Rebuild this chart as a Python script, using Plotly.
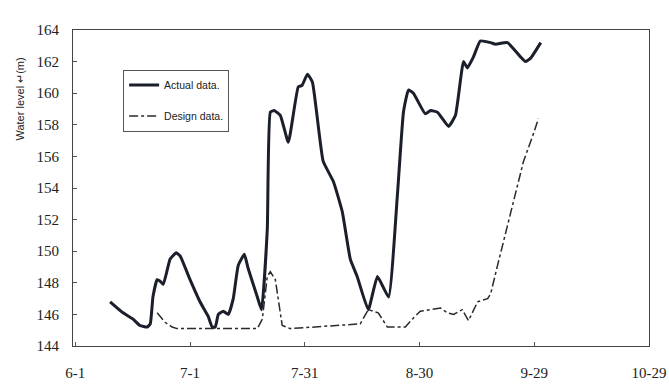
import plotly.graph_objects as go

# Days since 6-1
actual_day = [9.1, 12.5, 15.1, 16.9, 18.8, 19.6, 20.3, 21.4, 22.2, 23.0, 24.8, 26.4, 27.4, 30.0, 32.6,
              34.7, 35.8, 36.6, 37.4, 38.7, 40.0, 41.3, 42.6, 44.2, 45.2, 47.6, 48.7, 50.2, 51.0, 52.0,
              53.6, 55.7, 58.3, 59.3, 60.7, 62.0, 64.8, 67.5, 69.8, 71.9, 73.7, 76.6, 79.0, 81.9, 84.2,
              85.8, 87.1, 88.4, 91.5, 92.9, 94.7, 97.6, 99.4, 101.5, 102.5, 104.1, 105.9, 108.6, 109.9,
              113.0, 116.4, 117.7, 119.0, 121.7]
actual_level = [146.8, 146.1, 145.7, 145.3, 145.2, 145.4, 147.1, 148.2, 148.1, 147.9, 149.5, 149.9, 149.7, 148.2, 146.8,
                145.9, 145.2, 145.2, 146.0, 146.2, 146.0, 147.0, 149.1, 149.8, 148.9, 147.1, 146.3, 151.4, 158.8, 158.9,
                158.6, 156.9, 160.4, 160.5, 161.2, 160.7, 155.7, 154.4, 152.5, 149.5, 148.4, 146.3, 148.4, 147.1, 153.5,
                158.8, 160.2, 160.0, 158.7, 158.9, 158.8, 157.9, 158.6, 162.0, 161.6, 162.3, 163.3, 163.2, 163.1,
                163.2, 162.3, 162.0, 162.2, 163.2]

design_day = [21.4, 23.5, 25.3, 26.6, 47.6, 48.9, 50.2, 51.0, 52.3, 54.1, 56.2, 74.5, 76.6, 79.2, 81.6,
              86.3, 88.1, 90.2, 95.5, 97.3, 98.9, 101.2, 102.8, 105.2, 107.8, 108.6, 110.4, 113.0, 115.1,
              117.2, 119.6, 121.1]
design_level = [146.1, 145.5, 145.2, 145.1, 145.1, 145.7, 148.4, 148.7, 148.2, 145.3, 145.1, 145.4, 146.3, 146.1, 145.2,
                145.2, 145.7, 146.2, 146.4, 146.1, 146.0, 146.3, 145.6, 146.8, 147.0, 147.3, 149.1, 151.6, 153.5,
                155.7, 157.3, 158.4]

x_tickvals = [0, 30, 60, 90, 120, 150]
x_ticktext = ["6-1", "7-1", "7-31", "8-30", "9-29", "10-29"]
y_tickvals = [144, 146, 148, 150, 152, 154, 156, 158, 160, 162, 164]

fig = go.Figure()
fig.add_trace(go.Scatter(x=actual_day, y=actual_level, mode="lines", name="Actual data.",
                         legendgroup="a", line=dict(color="#1b1f2c", width=3, shape="spline", smoothing=0.4)))
fig.add_trace(go.Scatter(x=design_day, y=design_level, mode="lines", name="Design data.",
                         legendgroup="d", line=dict(color="#2a2a2a", width=1.5, dash="dashdot")))

axis_common = dict(showline=True, linecolor="#444", linewidth=1, mirror=True, showgrid=False,
                   zeroline=False, ticks="inside", ticklen=4, tickcolor="#555", automargin=False,
                   tickfont=dict(family="Liberation Serif", size=15, color="#222"))

fig.update_layout(
    width=669, height=385,
    margin=dict(l=73, r=20, t=30, b=39),
    paper_bgcolor="white", plot_bgcolor="white",
    showlegend=True,
    legend=dict(x=0.087, y=0.875, xanchor="left", yanchor="top", bordercolor="#555", borderwidth=1,
                bgcolor="white", font=dict(family="Liberation Sans", size=10.5, color="#222"),
                tracegroupgap=12, traceorder="grouped", itemwidth=30),
    xaxis=dict(range=[-0.6, 150], tickvals=x_tickvals, ticktext=x_ticktext, ticklabelstandoff=13, **axis_common),
    yaxis=dict(range=[144, 164], tickvals=y_tickvals, ticklabelstandoff=10, **axis_common),
    annotations=[dict(text="Water level ↵(m)", textangle=-90, xref="paper", yref="paper",
                      x=-0.092, y=0.78, xanchor="center", yanchor="middle", showarrow=False,
                      font=dict(family="Liberation Sans", size=11, color="#222"))],
)

fig.write_html("out.html", config={"displayModeBar": False},
               post_script="document.body.style.margin='0';document.body.style.overflow='hidden';")
